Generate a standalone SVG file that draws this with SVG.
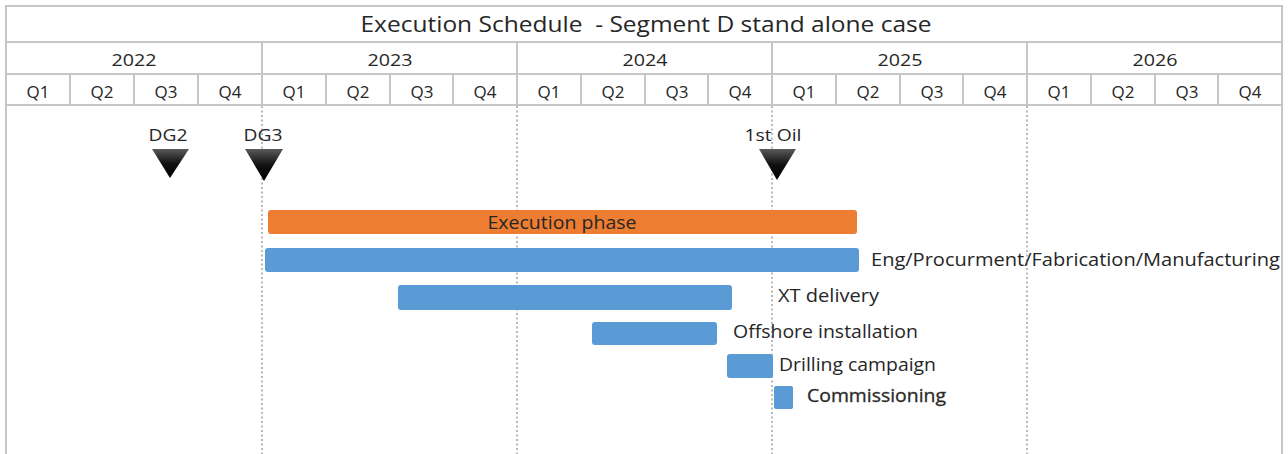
<svg xmlns="http://www.w3.org/2000/svg" width="1288" height="454" viewBox="0 0 1288 454">
<style>
.grid{stroke:#c6c6c6;stroke-width:2;fill:none}
.dot{stroke:#a8a8a8;stroke-width:1.6;stroke-dasharray:2 2.5;fill:none}
.hdr{font-family:"Open Sans","Liberation Sans",sans-serif;fill:#262626;text-anchor:middle}
.yr{font-size:17px}
.q{font-size:17px}
.title{font-size:22px}
.lbl{font-family:"Open Sans","Liberation Sans",sans-serif;font-size:17.5px;fill:#262626}
.ms{font-family:"Open Sans","Liberation Sans",sans-serif;font-size:17px;fill:#262626;text-anchor:middle}
.blue{fill:#5b9bd5}
.orange{fill:#ed7d31}
.tri{fill:url(#tg)}
</style>
<defs>
<linearGradient id="tg" x1="0" y1="0" x2="0" y2="1">
<stop offset="0" stop-color="#5a5a5a"/>
<stop offset="0.5" stop-color="#111"/>
<stop offset="1" stop-color="#000"/>
</linearGradient>
</defs>
<rect x="0" y="0" width="1288" height="454" fill="#fff"/>
<g id="grid">
<path class="grid" d="M6,454 V6 H1282 V454"/>
<path class="grid" d="M6,42 H1282 M6,74 H1282 M6,105 H1282"/>
<path class="grid" d="M262,42 V105 M517,42 V105 M772,42 V105 M1027,42 V105"/>
<path class="grid" d="M70,74 V105 M134,74 V105 M198,74 V105 M326,74 V105 M390,74 V105 M453,74 V105 M581,74 V105 M645,74 V105 M708,74 V105 M836,74 V105 M900,74 V105 M963,74 V105 M1091,74 V105 M1155,74 V105 M1218,74 V105"/>
</g>
<g id="header">
<text class="hdr title" x="646" y="32" textLength="571" lengthAdjust="spacingAndGlyphs" xml:space="preserve">Execution Schedule  - Segment D stand alone case</text>
<g class="hdr yr">
<text x="134" y="66" textLength="45" lengthAdjust="spacingAndGlyphs">2022</text>
<text x="390" y="66" textLength="45" lengthAdjust="spacingAndGlyphs">2023</text>
<text x="645" y="66" textLength="45" lengthAdjust="spacingAndGlyphs">2024</text>
<text x="900" y="66" textLength="45" lengthAdjust="spacingAndGlyphs">2025</text>
<text x="1155" y="66" textLength="45" lengthAdjust="spacingAndGlyphs">2026</text>
</g>
<g class="hdr q">
<text x="38" y="98">Q1</text><text x="102" y="98">Q2</text><text x="166" y="98">Q3</text><text x="230" y="98">Q4</text>
<text x="294" y="98">Q1</text><text x="358" y="98">Q2</text><text x="422" y="98">Q3</text><text x="485" y="98">Q4</text>
<text x="549" y="98">Q1</text><text x="613" y="98">Q2</text><text x="677" y="98">Q3</text><text x="740" y="98">Q4</text>
<text x="804" y="98">Q1</text><text x="868" y="98">Q2</text><text x="932" y="98">Q3</text><text x="995" y="98">Q4</text>
<text x="1059" y="98">Q1</text><text x="1123" y="98">Q2</text><text x="1187" y="98">Q3</text><text x="1250" y="98">Q4</text>
</g>
</g>
<g id="connectors">
<line class="dot" x1="262" y1="106" x2="262" y2="454"/>
<line class="dot" x1="517" y1="106" x2="517" y2="454"/>
<line class="dot" x1="772" y1="106" x2="772" y2="454"/>
<line class="dot" x1="1027" y1="106" x2="1027" y2="454"/>
</g>
<g id="dg2">
<text class="ms" x="168" y="141" textLength="39" lengthAdjust="spacingAndGlyphs">DG2</text>
<polygon class="tri" points="152,149 189,149 170,178"/>
</g>
<g id="dg3">
<text class="ms" x="263" y="141" textLength="39" lengthAdjust="spacingAndGlyphs">DG3</text>
<polygon class="tri" points="245,149 283,149 264,181"/>
</g>
<g id="first-oil">
<text class="ms" x="773" y="141" textLength="57" lengthAdjust="spacingAndGlyphs">1st Oil</text>
<polygon class="tri" points="759,149 796,149 777,180"/>
</g>
<g id="execution-phase">
<rect class="orange" x="268" y="210" width="589" height="24" rx="3"/>
<text class="lbl" x="562" y="229" text-anchor="middle" textLength="149" lengthAdjust="spacingAndGlyphs" fill="#3a2a1a">Execution phase</text>
</g>
<g id="eng">
<rect class="blue" x="265" y="248" width="594" height="24" rx="3"/>
<text class="lbl" x="871" y="266" textLength="409" lengthAdjust="spacingAndGlyphs">Eng/Procurment/Fabrication/Manufacturing</text>
</g>
<g id="xt-delivery">
<rect class="blue" x="398" y="285" width="334" height="25" rx="3"/>
<text class="lbl" x="778" y="302" textLength="101" lengthAdjust="spacingAndGlyphs">XT delivery</text>
</g>
<g id="offshore-installation">
<rect class="blue" x="592" y="322" width="125" height="23" rx="3"/>
<text class="lbl" x="733" y="338" textLength="185" lengthAdjust="spacingAndGlyphs">Offshore installation</text>
</g>
<g id="drilling-campaign">
<rect class="blue" x="727" y="354" width="46" height="24" rx="3"/>
<text class="lbl" x="779" y="371" textLength="157" lengthAdjust="spacingAndGlyphs">Drilling campaign</text>
</g>
<g id="commissioning">
<rect class="blue" x="774" y="386" width="19" height="23" rx="2"/>
<text class="lbl" x="807" y="402" textLength="139" lengthAdjust="spacingAndGlyphs" fill="#3a3a3a" stroke="#3a3a3a" stroke-width="0.35">Commissioning</text>
</g>
</svg>
